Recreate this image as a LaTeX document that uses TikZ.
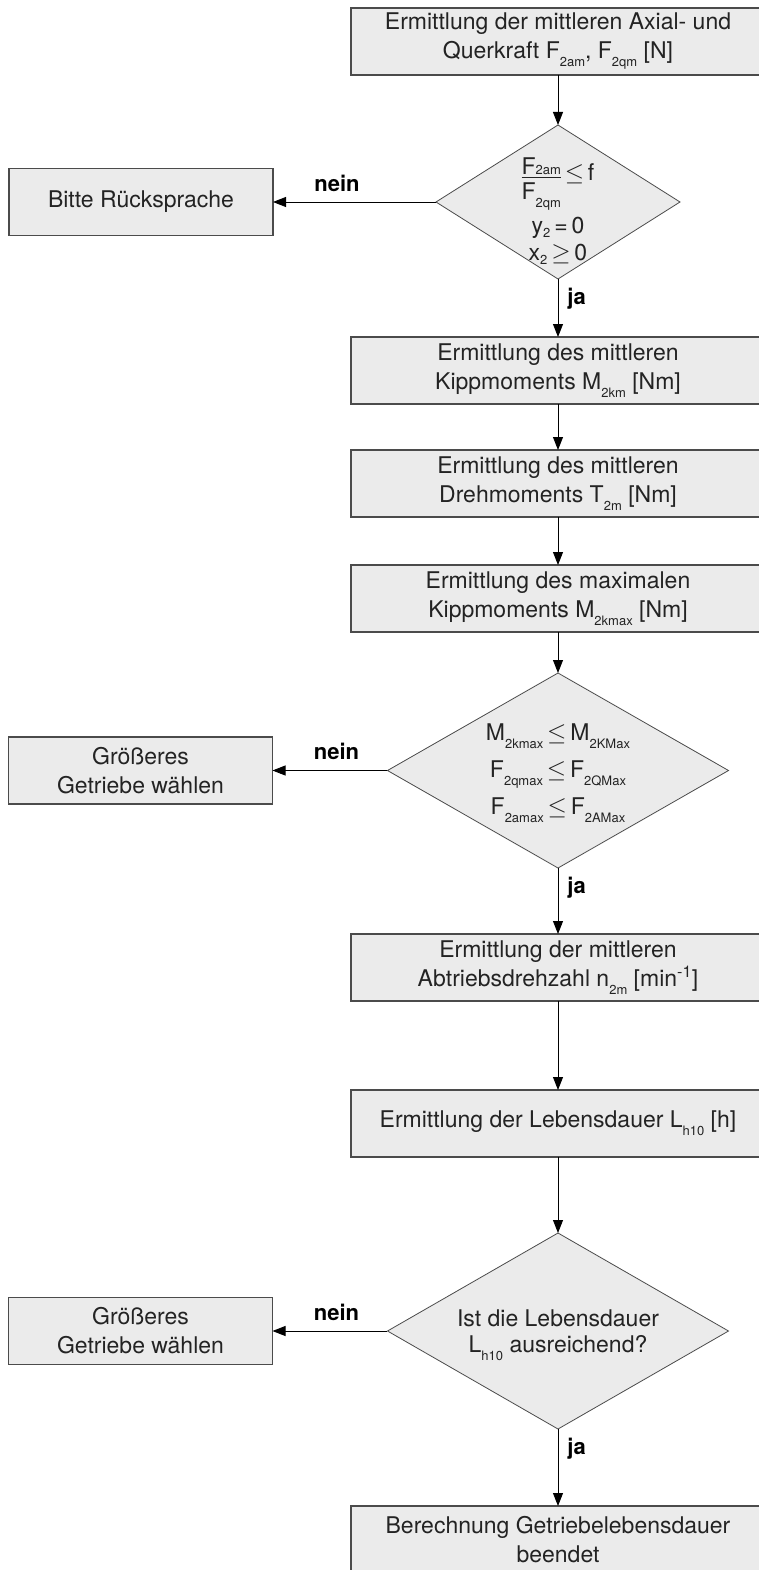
\documentclass[tikz,border=0pt]{standalone}
\usepackage{fontspec}
\setmainfont{TeX Gyre Heros}
\usetikzlibrary{arrows.meta,positioning,shapes.geometric}
\usepackage{xcolor}
\definecolor{boxgray}{RGB}{235,235,235}
\definecolor{linegray}{RGB}{75,75,75}
\definecolor{textgray}{RGB}{35,35,35}
\newcommand{\idx}[1]{\raisebox{-8pt}{\fontsize{13}{13}\selectfont #1}}
\newcommand{\idxflach}[1]{\raisebox{-4pt}{\fontsize{13}{13}\selectfont #1}}
\newcommand{\idxhoch}[1]{{\fontsize{13}{13}\selectfont #1}}
\newcommand{\bruch}[2]{\raisebox{-19pt}{\begin{tabular}[b]{@{}c@{}}#1\\[-5pt]\hline\rule{0pt}{22pt}#2\end{tabular}}}

\begin{document}
\begin{tikzpicture}[x=1pt, y=1pt, node distance=50pt, >={Triangle[length=13pt,width=10pt]},
  every node/.style={font=\fontsize{23}{29}\selectfont, text=textgray},
  procbox/.style={draw=linegray, line width=1.2pt, fill=boxgray, minimum width=414pt, minimum height=67pt, align=center, inner sep=0pt, outer sep=0pt},
  sidebox/.style={procbox, minimum width=264pt},
  decision/.style={diamond, draw=linegray, line width=0.8pt, fill=boxgray, inner sep=0pt, outer sep=0pt},
  flow/.style={->, line width=0.9pt, draw=black},
  neinlbl/.style={pos=1, anchor=south, xshift=64pt, yshift=10pt, inner sep=0pt, text=black, font=\fontsize{22}{26}\selectfont\bfseries},
  jalbl/.style={pos=0, anchor=north west, xshift=9pt, yshift=-9pt, inner sep=0pt, text=black, font=\fontsize{22}{26}\selectfont\bfseries}]
  \useasboundingbox (0,0) rectangle (758,-1570);
  % main column
  \node[procbox] (kraft) at (558,-41.5) {Ermittlung der mittleren Axial- und\\Querkraft F\idx{2am}, F\idx{2qm} [N]};
  \node[decision, minimum width=244pt, minimum height=154pt, below=50pt of kraft] (pruef1) {};
  \node[align=center, yshift=-8pt, font=\fontsize{23}{27}\selectfont] at (pruef1) {\bruch{F\idxhoch{2am}}{F\idx{2qm}}\,$\leq$\,f\\[6pt]y\idxflach{2}\,=\,0\\x\idxflach{2}\,$\geq$\,0};
  \node[sidebox, left=163pt of pruef1] (rueck) {Bitte Rücksprache};
  \node[procbox, below=58pt of pruef1] (kipp) {Ermittlung des mittleren\\Kippmoments M\idx{2km} [Nm]};
  \node[procbox, below=46pt of kipp] (dreh) {Ermittlung des mittleren\\Drehmoments T\idx{2m} [Nm]};
  \node[procbox, below=48pt of dreh] (kippmax) {Ermittlung des maximalen\\Kippmoments M\idx{2kmax} [Nm]};
  \node[decision, minimum width=341pt, minimum height=195pt, below=41pt of kippmax] (pruef2) {};
  \node[align=center, yshift=-3pt, font=\fontsize{23}{37}\selectfont] at (pruef2) {M\idx{2kmax}\,$\leq$\,M\idx{2KMax}\\F\idx{2qmax}\,$\leq$\,F\idx{2QMax}\\F\idx{2amax}\,$\leq$\,F\idx{2AMax}};
  \node[sidebox, left=115pt of pruef2] (groesser1) {Größeres\\Getriebe wählen};
  \node[procbox, below=66pt of pruef2] (drehzahl) {Ermittlung der mittleren\\Abtriebsdrehzahl n\idx{2m} [min\textsuperscript{-1}]};
  \node[procbox, below=89pt of drehzahl] (lebensd) {Ermittlung der Lebensdauer L\idx{h10} [h]};
  \node[decision, minimum width=341pt, minimum height=196pt, below=76pt of lebensd] (pruef3) {};
  \node[align=center, yshift=-4pt, font=\fontsize{23}{26}\selectfont] at (pruef3) {Ist die Lebensdauer\\L\idx{h10} ausreichend?};
  \node[sidebox, left=115pt of pruef3] (groesser2) {Größeres\\Getriebe wählen};
  \node[procbox, below=77pt of pruef3] (ende) {Berechnung Getriebelebensdauer\\beendet};
  % connectors
  \draw[flow] (kraft) -- (pruef1);
  \draw[flow] (pruef1) -- node[neinlbl] {nein} (rueck);
  \draw[flow] (pruef1) -- node[jalbl] {ja} (kipp);
  \draw[flow] (kipp) -- (dreh);
  \draw[flow] (dreh) -- (kippmax);
  \draw[flow] (kippmax) -- (pruef2);
  \draw[flow] (pruef2) -- node[neinlbl] {nein} (groesser1);
  \draw[flow] (pruef2) -- node[jalbl] {ja} (drehzahl);
  \draw[flow] (drehzahl) -- (lebensd);
  \draw[flow] (lebensd) -- (pruef3);
  \draw[flow] (pruef3) -- node[neinlbl] {nein} (groesser2);
  \draw[flow] (pruef3) -- node[jalbl] {ja} (ende);
\end{tikzpicture}
\end{document}
